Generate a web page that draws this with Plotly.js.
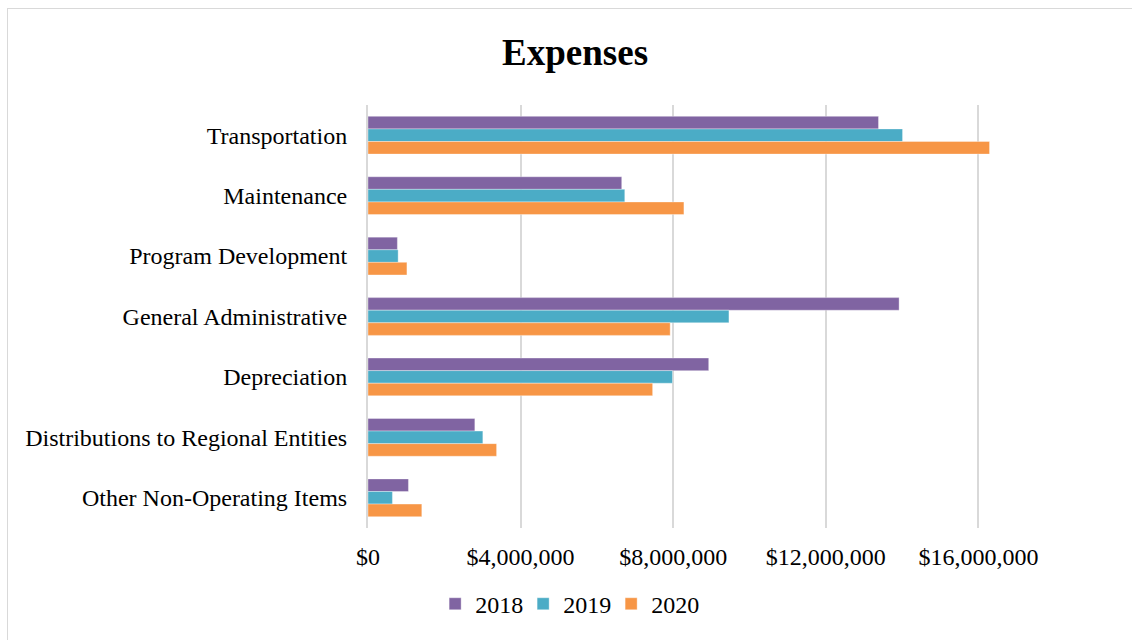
<!DOCTYPE html>
<html>
<head>
<meta charset="utf-8">
<script src="https://cdn.plot.ly/plotly-3.0.1.min.js"></script>
<style>
  html, body { margin: 0; padding: 0; background: #fff; overflow: hidden; }
  #wrap { position: relative; width: 1132px; height: 640px; }
  #chart { position: absolute; left: 0; top: 0; width: 1132px; height: 640px; }
  #frame { position: absolute; left: 7px; top: 8px; width: 1200px; height: 700px;
           border: 1.5px solid #d9d9d9; pointer-events: none; box-sizing: border-box; }
</style>
</head>
<body>
<div id="wrap">
  <div id="chart"></div>
  <div id="frame"></div>
</div>
<script>
const categories = [
  "Transportation",
  "Maintenance",
  "Program Development",
  "General Administrative",
  "Depreciation",
  "Distributions to Regional Entities",
  "Other Non-Operating Items"
];
const years = ["2018", "2019", "2020"];
const v2018 = [13380000, 6650000, 770000, 13920000, 8930000, 2800000, 1060000];
const v2019 = [14010000, 6730000, 790000, 9460000, 7980000, 3010000, 640000];
const v2020 = [16290000, 8280000, 1020000, 7920000, 7460000, 3370000, 1410000];
const colors = ["#8064a2", "#4bacc6", "#f79646"];
const series = [v2018, v2019, v2020];

const font = "Liberation Serif, Times New Roman, serif";

const traces = series.map((vals, i) => ({
  type: "bar",
  orientation: "h",
  name: years[i],
  y: categories,
  x: vals,
  marker: { color: colors[i], line: { color: "rgba(255,255,255,0.35)", width: 1 } },
  hoverinfo: "x+y+name"
}));

const layout = {
  width: 1132,
  height: 640,
  paper_bgcolor: "#ffffff",
  plot_bgcolor: "#ffffff",
  font: { family: font, size: 24, color: "#000000" },
  title: {
    text: "<b>Expenses</b>",
    font: { family: font, size: 37, color: "#000000" },
    xref: "container", x: 0.508, xanchor: "center",
    yref: "container", y: 0.919, yanchor: "middle"
  },
  margin: { l: 368, r: 20, t: 105, b: 112, pad: 0 },
  barmode: "group",
  bargap: 0.375,
  bargroupgap: 0,
  xaxis: {
    range: [0, 19500000],
    tick0: 0,
    dtick: 4000000,
    tickprefix: "$",
    tickformat: ",.0f",
    showgrid: true,
    gridcolor: "#d9d9d9",
    gridwidth: 2,
    zeroline: false,
    showline: false,
    ticks: "",
    ticklabelstandoff: 12,
    tickfont: { family: font, size: 24, color: "#000000" },
    fixedrange: true
  },
  yaxis: {
    autorange: "reversed",
    type: "category",
    showgrid: false,
    zeroline: false,
    showline: true,
    linecolor: "#d9d9d9",
    linewidth: 2,
    ticks: "",
    ticklabelstandoff: 14,
    tickfont: { family: font, size: 24, color: "#000000" },
    fixedrange: true
  },
  showlegend: true,
  legend: {
    orientation: "h",
    xref: "container", x: 0.501, xanchor: "center",
    yref: "container", y: 0.056, yanchor: "middle",
    font: { family: font, size: 24, color: "#000000" },
    traceorder: "normal",
    itemwidth: 30,
    entrywidth: 43,
    entrywidthmode: "pixels",
    bgcolor: "rgba(0,0,0,0)"
  }
};

Plotly.newPlot("chart", traces, layout, { displayModeBar: false, staticPlot: true });
</script>
</body>
</html>
